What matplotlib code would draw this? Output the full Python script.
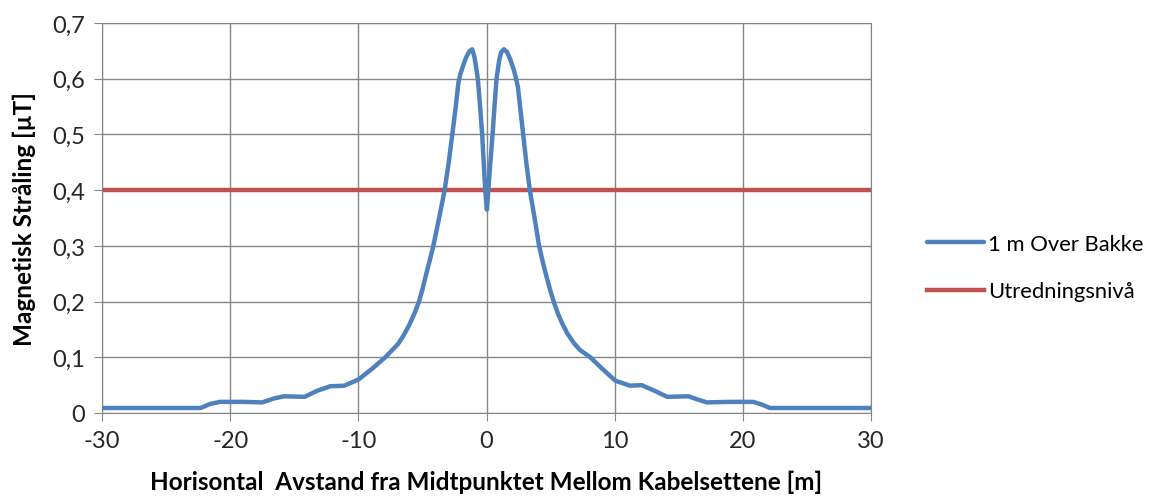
import matplotlib.pyplot as plt

# afstand fra midtpunkt [m] og magnetfelt 1 m over bakke [uT]
avstand = [-30, -26, -22.3, -21.6, -20.8, -19, -17.5, -16.6, -15.8, -14.2, -13.2, -12.2, -11.1,
           -10, -8.9, -7.9, -7.4, -6.9, -6.5, -6.05, -5.6, -5.27, -5.0, -4.7, -4.45, -4.15,
           -3.7, -3.27, -2.95, -2.67, -2.4, -2.2, -2.05, -1.85, -1.6, -1.35, -1.12,
           -0.95, -0.82, -0.68, -0.5, -0.34, -0.1, 0.03,
           0.2, 0.47, 0.62, 0.78, 1.0, 1.15, 1.35, 1.6, 1.85, 2.1, 2.28, 2.45, 2.62, 2.86,
           3.1, 3.38, 3.75, 4.1, 4.4, 4.7, 5.0, 5.3, 5.6, 5.9, 6.3, 6.8, 7.3, 8.1, 9.0, 10.05,
           11.2, 12.1, 13.1, 14.1, 15.75, 16.5, 17.2, 19, 20.8, 21.5, 22.1, 26, 30]
felt = [0.009, 0.009, 0.009, 0.016, 0.02, 0.02, 0.019, 0.026, 0.03, 0.029, 0.04, 0.048, 0.049,
        0.06, 0.08, 0.1, 0.112, 0.124, 0.138, 0.157, 0.18, 0.2, 0.222, 0.25, 0.272, 0.3,
        0.35, 0.4, 0.45, 0.5, 0.55, 0.592, 0.608, 0.622, 0.638, 0.649, 0.653,
        0.64, 0.622, 0.6, 0.55, 0.5, 0.4, 0.365,
        0.42, 0.5, 0.55, 0.6, 0.635, 0.648, 0.653, 0.648, 0.635, 0.618, 0.603, 0.585, 0.55, 0.5,
        0.45, 0.4, 0.35, 0.3, 0.27, 0.243, 0.218, 0.196, 0.177, 0.161, 0.143, 0.126, 0.113, 0.1, 0.08, 0.058,
        0.049, 0.05, 0.04, 0.029, 0.03, 0.024, 0.019, 0.02, 0.02, 0.015, 0.009, 0.009, 0.009]

grense = 0.4
xlim = [-30, 30]

plt.rcParams['font.family'] = ['Lato', 'DejaVu Sans']
plt.rcParams['axes.unicode_minus'] = False
fig = plt.figure(figsize=(11.54, 5.02), dpi=100)
ax = fig.add_axes([0.0884, 0.1753, 0.6664, 0.7767])

l1, = ax.plot(avstand, felt, color='#4F81BD', lw=3.2, solid_capstyle='round', solid_joinstyle='round',
              label='1 m Over Bakke', zorder=3)
l2, = ax.plot(xlim, [grense, grense], color='#C0504D', lw=3.2, label='Utredningsnivå', zorder=2)

ax.set_xlim(-30, 30)
ax.set_ylim(0, 0.7)
ax.set_xticks([-30, -20, -10, 0, 10, 20, 30])
ax.set_yticks([0, 0.1, 0.2, 0.3, 0.4, 0.5, 0.6, 0.7])
ax.set_yticklabels(['0', '0,1', '0,2', '0,3', '0,4', '0,5', '0,6', '0,7'])
ax.grid(True, color='#868686', lw=1)
ax.set_axisbelow(True)
for s in ax.spines.values():
    s.set_color('#868686')
ax.tick_params(direction='out', length=6, color='#868686', labelsize=17, labelcolor='#262626', pad=6)

ax.set_xlabel('Horisontal  Avstand fra Midtpunktet Mellom Kabelsettene [m]', fontsize=17.5, fontweight='bold', labelpad=14)
ax.set_ylabel('Magnetisk Stråling [µT]', fontsize=17.5, fontweight='bold', labelpad=12)

fig.legend(handles=[l1, l2], loc='center left', bbox_to_anchor=(0.786, 0.465), frameon=False,
           fontsize=15.8, handlelength=2.6, handletextpad=0.2, labelspacing=1.25)

plt.savefig('out.png', dpi=100)
